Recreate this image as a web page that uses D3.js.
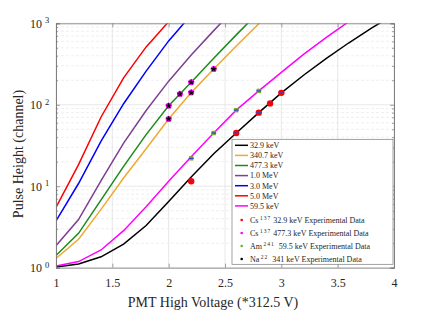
<!DOCTYPE html>
<html>
<head>
<meta charset="utf-8">
<script src="https://cdn.jsdelivr.net/npm/d3@7"></script>
<style>
  body { margin: 0; background: #fff; }
  svg { font-family: "Liberation Serif", "Times New Roman", serif; }
</style>
</head>
<body>
<svg id="chart" width="436" height="310"></svg>
<script>
// PMT voltage steps (*312.5 V)
const voltages = [1, 1.2, 1.4, 1.6, 1.8, 2, 2.2, 2.4, 2.6, 2.8, 3, 3.2, 3.4, 3.6, 3.8, 4];

// simulated pulse heights (channel) per gamma energy
const ph32_9keV = [1.02, 1.11, 1.36, 1.95, 3.3, 6.5, 13, 25, 45, 80, 140, 232, 371, 577, 872, 1280];
const ph340_7keV = [1.3, 2.23, 5.2, 12.6, 28.8, 67, 141, 275, 525, 986, 1820];
const ph477_3keV = [1.41, 2.64, 6.8, 17.5, 43, 97, 189, 372, 721, 1374];
const ph1_0MeV = [1.86, 3.9, 11.7, 33.9, 85, 195, 407, 813, 1585];
const ph3_0MeV = [3.75, 10.8, 35.8, 103, 259, 608, 1270];
const ph5_0MeV = [5.5, 18.4, 70.8, 214, 513, 1047];
const ph59_5keV = [1.05, 1.19, 1.65, 2.85, 5.6, 11.5, 23, 45, 86, 148, 250, 419, 673, 1052];

const seriesNames = ['32.9 keV', '340.7 keV', '477.3 keV', '1.0 MeV', '3.0 MeV', '5.0 MeV', '59.5 keV'];
const seriesValues = [ph32_9keV, ph340_7keV, ph477_3keV, ph1_0MeV, ph3_0MeV, ph5_0MeV, ph59_5keV];
const seriesColors = ['#000000', '#f0a830', '#1a8c1a', '#7e3f94', '#0000ff', '#ff0000', '#ff00ff'];

// experimental data
const cs32V = [2.2, 2.6, 2.8, 2.9, 3.0];
const cs32PH = [11.5, 45, 80, 104, 140];
const cs477V = [2.0, 2.1, 2.2, 2.0, 2.2, 2.4];
const cs477PH = [97, 136, 189, 67, 141, 275];
const am59V = [2.2, 2.4, 2.6, 2.8];
const am59PH = [22, 45, 86, 148];
const na341V = [2.0, 2.1, 2.2, 2.0, 2.2, 2.4];
const na341PH = [97, 136, 189, 67, 141, 275];

const xTicks = [1, 1.5, 2, 2.5, 3, 3.5, 4];
const yDecades = [1, 10, 100, 1000];

const svg = d3.select('#chart');
const plotLeft = 56, plotRight = 394, plotTop = 23.3, plotBottom = 267.7;

const x = d3.scaleLinear().domain([1, 4]).range([plotLeft, plotRight]);
const y = d3.scaleLog().domain([1, 1000]).range([plotBottom, plotTop]);
const yMinor = y.ticks().filter(v => !yDecades.includes(v));

svg.append('defs').append('clipPath').attr('id', 'plot-clip')
  .append('rect')
  .attr('x', plotLeft).attr('y', plotTop)
  .attr('width', plotRight - plotLeft).attr('height', plotBottom - plotTop);

// grid
const grid = svg.append('g');
grid.selectAll('.minor')
  .data(yMinor)
  .enter().append('line')
  .attr('x1', plotLeft).attr('x2', plotRight)
  .attr('y1', d => y(d)).attr('y2', d => y(d))
  .attr('stroke', '#e4e4e4')
  .attr('stroke-width', 0.6)
  .attr('stroke-dasharray', '3,2');
grid.selectAll('.hmajor')
  .data(yDecades)
  .enter().append('line')
  .attr('x1', plotLeft).attr('x2', plotRight)
  .attr('y1', d => y(d)).attr('y2', d => y(d))
  .attr('stroke', '#e2e2e2')
  .attr('stroke-width', 0.8);
grid.selectAll('.vmajor')
  .data(xTicks)
  .enter().append('line')
  .attr('x1', d => x(d)).attr('x2', d => x(d))
  .attr('y1', plotTop).attr('y2', plotBottom)
  .attr('stroke', '#e2e2e2')
  .attr('stroke-width', 0.8);

// simulated curves
const line = d3.line()
  .x((d, i) => x(voltages[i]))
  .y(d => y(d));

svg.append('g')
  .attr('clip-path', 'url(#plot-clip)')
  .selectAll('path')
  .data(seriesValues)
  .join('path')
  .attr('d', line)
  .attr('fill', 'none')
  .attr('stroke', (d, i) => seriesColors[i])
  .attr('stroke-width', 1.5);

// experimental markers
const marks = svg.append('g');

function blueDash(g, xs, ys) {
  g.selectAll('line')
    .data(xs)
    .join('line')
    .attr('x1', d => x(d) - 2.5).attr('x2', d => x(d) + 2.5)
    .attr('y1', (d, i) => y(ys[i])).attr('y2', (d, i) => y(ys[i]))
    .attr('stroke', '#2846c8')
    .attr('stroke-width', 1.2);
}

marks.append('g').selectAll('circle')
  .data(cs32V)
  .join('circle')
  .attr('cx', d => x(d))
  .attr('cy', (d, i) => y(cs32PH[i]))
  .attr('r', 3.2)
  .attr('fill', '#ff0000');
blueDash(marks.append('g'), cs32V, cs32PH);

marks.append('g').selectAll('rect')
  .data(am59V)
  .join('rect')
  .attr('x', d => x(d) - 2.2)
  .attr('y', (d, i) => y(am59PH[i]) - 2.2)
  .attr('width', 4.4).attr('height', 4.4)
  .attr('fill', '#77ac30');
blueDash(marks.append('g'), am59V, am59PH);

marks.append('g').selectAll('circle')
  .data(cs477V)
  .join('circle')
  .attr('cx', d => x(d))
  .attr('cy', (d, i) => y(cs477PH[i]))
  .attr('r', 3)
  .attr('fill', '#ff00ff');

const star = d3.symbol().type(d3.symbolStar).size(14);
marks.append('g').selectAll('path')
  .data(na341V)
  .join('path')
  .attr('d', star)
  .attr('transform', (d, i) => `translate(${x(d)},${y(na341PH[i])})`)
  .attr('fill', '#000');

// axes box + ticks (inside)
const axisColor = '#7a7a7a';
const axes = svg.append('g');

const xBottom = axes.append('g')
  .attr('transform', `translate(0,${plotBottom})`)
  .call(d3.axisBottom(x).tickValues(xTicks).tickSize(-4).tickPadding(11).tickFormat(d3.format('')));
axes.append('g')
  .attr('transform', `translate(0,${plotTop})`)
  .call(d3.axisTop(x).tickValues(xTicks).tickSize(-4).tickFormat(''));
axes.append('g')
  .attr('transform', `translate(${plotLeft},0)`)
  .call(d3.axisLeft(y).tickValues(yDecades).tickSize(-4).tickFormat(''));
axes.append('g')
  .attr('transform', `translate(${plotRight},0)`)
  .call(d3.axisRight(y).tickValues(yDecades).tickSize(-4).tickFormat(''));
axes.append('g')
  .attr('transform', `translate(${plotLeft},0)`)
  .call(d3.axisLeft(y).tickValues(yMinor).tickSize(-2).tickFormat(''));
axes.append('g')
  .attr('transform', `translate(${plotRight},0)`)
  .call(d3.axisRight(y).tickValues(yMinor).tickSize(-2).tickFormat(''));

axes.selectAll('.domain').attr('stroke', axisColor).attr('stroke-width', 0.8);
axes.selectAll('.tick line').attr('stroke', axisColor).attr('stroke-width', 0.7);
xBottom.selectAll('text')
  .attr('font-family', '"Liberation Serif", serif')
  .attr('font-size', 12)
  .attr('fill', '#262626');

// y tick labels with superscript exponent
const yLab = svg.append('g').attr('fill', '#262626');
yLab.selectAll('.base')
  .data(yDecades)
  .enter().append('text')
  .attr('x', 42)
  .attr('y', d => y(d) + 4.6)
  .attr('text-anchor', 'end')
  .attr('font-size', 12)
  .text('10');
yLab.selectAll('.exp')
  .data(yDecades)
  .enter().append('text')
  .attr('x', 45)
  .attr('y', d => y(d) - 0.2)
  .attr('font-size', 8.5)
  .text(d => Math.round(Math.log10(d)));

// axis titles
svg.append('text')
  .attr('x', 213)
  .attr('y', 307)
  .attr('text-anchor', 'middle')
  .attr('font-size', 14)
  .attr('fill', '#262626')
  .text('PMT High Voltage (*312.5 V)');
svg.append('text')
  .attr('transform', 'translate(23,154) rotate(-90)')
  .attr('text-anchor', 'middle')
  .attr('font-size', 14)
  .attr('fill', '#262626')
  .text('Pulse Height (channel)');

// legend
const legend = svg.append('g');
legend.append('rect')
  .attr('x', 232).attr('y', 139.3)
  .attr('width', 161).attr('height', 125)
  .attr('fill', '#fff')
  .attr('stroke', axisColor)
  .attr('stroke-width', 0.7);

seriesNames.forEach((name, i) => {
  const ly = 145.3 + i * 10.1;
  legend.append('line')
    .attr('x1', 235).attr('x2', 248)
    .attr('y1', ly).attr('y2', ly)
    .attr('stroke', seriesColors[i])
    .attr('stroke-width', 1.5);
  legend.append('text')
    .attr('x', 250).attr('y', ly + 2.8)
    .attr('font-size', 8)
    .attr('fill', '#262626')
    .text(name);
});

const expLegend = [
  { el: 'Cs', iso: '137', rest: ' 32.9 keV Experimental Data', color: '#ff0000' },
  { el: 'Cs', iso: '137', rest: ' 477.3 keV Experimental Data', color: '#ff00ff' },
  { el: 'Am', iso: '241', rest: '  59.5 keV Experimental Data', color: '#77ac30' },
  { el: 'Na', iso: '22', rest: '  341 keV Experimental Data', color: '#000000' }
];

expLegend.forEach((e, i) => {
  const ly = 220 + i * 13;
  legend.append('circle')
    .attr('cx', 241.7).attr('cy', ly)
    .attr('r', 1.3)
    .attr('fill', e.color);
  const t = legend.append('text')
    .attr('x', 250).attr('y', ly + 3)
    .attr('font-size', 8)
    .attr('fill', '#262626')
    .style('white-space', 'pre');
  t.append('tspan').text(e.el);
  t.append('tspan')
    .attr('dx', 1.5)
    .attr('dy', -3.5)
    .attr('font-size', 5.5)
    .attr('letter-spacing', 1)
    .text(e.iso);
  t.append('tspan')
    .attr('dy', 3.5)
    .text(e.rest);
});
</script>
</body>
</html>
